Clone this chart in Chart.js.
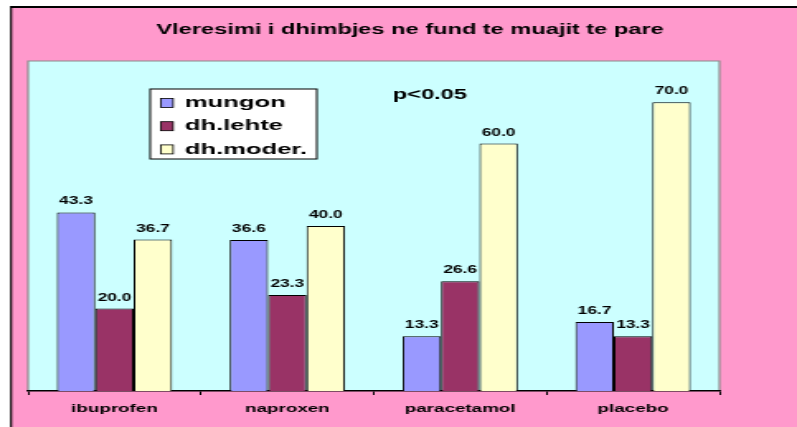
<!DOCTYPE html>
<html>
<head>
  <meta charset="utf-8">
  <title>Vleresimi i dhimbjes</title>
  <script src="https://cdn.jsdelivr.net/npm/chart.js"></script>
  <style>
    body {
      margin: 0;
      padding: 0;
      background: #ffffff;
      overflow: hidden;
    }
    /* the original chart is stretched sideways, so draw narrow and widen */
    #wrap {
      position: absolute;
      left: 0;
      top: 0;
      width: 483px;
      height: 427px;
      transform: scaleX(1.6501);
      transform-origin: 0 0;
    }
  </style>
</head>
<body>
  <div id="wrap"><canvas id="myChart" width="483" height="427"></canvas></div>

  <script>
    const titleText = 'Vleresimi i dhimbjes ne fund te muajit te pare';
    const noteText = 'p<0.05';
    const categories = ['ibuprofen', 'naproxen', 'paracetamol', 'placebo'];
    const mungon = [43.3, 36.6, 13.3, 16.7];
    const dhLehte = [20.0, 23.3, 26.6, 13.3];
    const dhModer = [36.7, 40.0, 60.0, 70.0];

    const FONT = "'Liberation Sans', Arial, sans-serif";

    // pink page, black frame, cyan plot, title and note
    const frame = {
      id: 'frame',
      beforeDraw(chart) {
        const { ctx, chartArea: a } = chart;
        ctx.save();
        ctx.fillStyle = '#FF99CC';
        ctx.fillRect(6.5, 7, chart.width, chart.height);
        ctx.fillStyle = '#000000';
        ctx.fillRect(6.1, 6, 1.2, chart.height);
        ctx.fillRect(6.1, 6, chart.width, 2);

        ctx.fillStyle = '#CCFFFF';
        ctx.fillRect(a.left, a.top, a.right - a.left, a.bottom - a.top);
        ctx.strokeStyle = '#8c8c8c';
        ctx.lineWidth = 1.2;
        ctx.beginPath();
        ctx.moveTo(a.left, a.bottom);
        ctx.lineTo(a.left, a.top);
        ctx.lineTo(a.right, a.top);
        ctx.lineTo(a.right, a.bottom);
        ctx.stroke();

        ctx.fillStyle = '#000000';
        ctx.textAlign = 'center';
        ctx.textBaseline = 'middle';
        ctx.font = 'bold 14.3px ' + FONT;
        ctx.fillText(titleText, 248.5, 30);
        ctx.font = 'bold 14.3px ' + FONT;
        ctx.fillText(noteText, 260.5, 95.5);
        ctx.restore();
      }
    };

    // values above the bars
    const barValues = {
      id: 'barValues',
      afterDatasetsDraw(chart) {
        const ctx = chart.ctx;
        ctx.save();
        ctx.fillStyle = '#000000';
        ctx.font = 'bold 10.5px ' + FONT;
        ctx.textAlign = 'center';
        ctx.textBaseline = 'alphabetic';
        chart.data.datasets.forEach((ds, i) => {
          chart.getDatasetMeta(i).data.forEach((bar, j) => {
            ctx.fillText(ds.data[j].toFixed(1), bar.x, bar.y - 8);
          });
        });
        ctx.restore();
      }
    };

    // legend box inside the plot
    const boxLegend = {
      id: 'boxLegend',
      afterDraw(chart) {
        const ctx = chart.ctx;
        const x = 91, y = 89, w = 101, h = 70;
        ctx.save();
        ctx.fillStyle = '#ffffff';
        ctx.fillRect(x, y, w, h);
        ctx.strokeStyle = '#000000';
        ctx.lineWidth = 1;
        ctx.strokeRect(x, y, w, h);
        ctx.font = 'bold 15.5px ' + FONT;
        ctx.textAlign = 'left';
        ctx.textBaseline = 'middle';
        chart.data.datasets.forEach((ds, i) => {
          const cy = 103 + i * 23.2;
          ctx.fillStyle = ds.backgroundColor;
          ctx.fillRect(97.4, cy - 4.5, 7.5, 9);
          ctx.lineWidth = 0.8;
          ctx.strokeRect(97.4, cy - 4.5, 7.5, 9);
          ctx.fillStyle = '#000000';
          ctx.fillText(ds.label, 112, cy);
        });
        ctx.restore();
      }
    };

    const ctx = document.getElementById('myChart').getContext('2d');
    const chart = new Chart(ctx, {
      type: 'bar',
      data: {
        labels: categories,
        datasets: [
          { label: 'mungon', data: mungon, backgroundColor: '#9999FF' },
          { label: 'dh.lehte', data: dhLehte, backgroundColor: '#993366' },
          { label: 'dh.moder.', data: dhModer, backgroundColor: '#FFFFCC' }
        ]
      },
      options: {
        responsive: false,
        animation: false,
        layout: {
          padding: { left: 17, right: 47, top: 61, bottom: 0 }
        },
        datasets: {
          bar: {
            categoryPercentage: 0.667,
            barPercentage: 1.0,
            borderColor: '#000000',
            borderWidth: 1
          }
        },
        scales: {
          x: {
            afterFit(scale) { scale.height = 36; },
            grid: {
              display: true,
              offset: true,
              drawOnChartArea: false,
              tickLength: 4,
              color: '#000000',
              lineWidth: 1
            },
            border: { display: true, color: '#000000', width: 1.5 },
            ticks: {
              color: '#000000',
              padding: 7,
              font: { family: FONT, size: 11.4, weight: 'bold' }
            }
          },
          y: {
            display: false,
            min: 0,
            max: 80
          }
        },
        plugins: {
          legend: { display: false },
          title: { display: false },
          tooltip: { enabled: false }
        }
      },
      plugins: [frame, barValues, boxLegend]
    });
  </script>
</body>
</html>
